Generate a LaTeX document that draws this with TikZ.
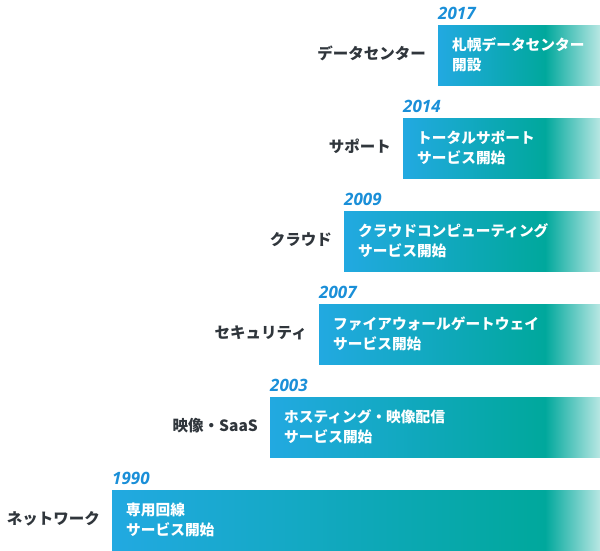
\documentclass[tikz,border=0pt]{standalone}
\usepackage{fontspec}
\newfontfamily\jp{Noto Sans CJK JP}
\newfontfamily\yr{Open Sans}
\definecolor{barblue}{HTML}{22A9E1}
\definecolor{barteal}{HTML}{00A89C}
\definecolor{barfade}{HTML}{B8E7E3}
\definecolor{yearblue}{HTML}{1A8FD8}
\definecolor{labelgray}{HTML}{30363C}
\tikzset{
  catlabel/.style={anchor=east, inner sep=0pt, text=labelgray, font=\jp\bfseries\fontsize{15.5}{18}\selectfont},
  yearlabel/.style={anchor=base west, inner sep=0pt, text=yearblue, font=\yr\bfseries\itshape\fontsize{17}{20}\selectfont},
  bartext/.style={anchor=west, inner sep=0pt, align=left, text=white, font=\jp\bfseries\fontsize{14.7}{20}\selectfont},
}
\begin{document}
\begin{tikzpicture}[x=1pt,y=-1pt]
\useasboundingbox (0,0) rectangle (600,550);
\foreach \n/\bx/\top/\yy/\cat/\txt in {
  1/438/25/2017/データセンター/{札幌データセンター\\開設},
  2/403/118/2014/サポート/{トータルサポート\\サービス開始},
  3/344/211/2009/クラウド/{クラウドコンピューティング\\サービス開始},
  4/319/304/2007/セキュリティ/{ファイアウォールゲートウェイ\\サービス開始},
  5/270/397/2003/映像・SaaS/{ホスティング・映像配信\\サービス開始},
  6/112/490/1990/ネットワーク/{専用回線\\サービス開始}}{
  \shade[left color=barblue, right color=barteal] (\bx,\top) rectangle (545.5,\top+60);
  \shade[left color=barteal, right color=barfade] (545,\top) rectangle (600,\top+60);
  \coordinate (bar\n) at (\bx,\top+30);
  \node[bartext] (txt\n) at (\bx+14,\top+30) {\txt};
  \node[yearlabel] (yr\n) at (\bx,\top-6) {\yy};
  \node[catlabel] (cat\n) at (\bx-12,\top+28.5) {\cat};
}
\end{tikzpicture}
\end{document}
